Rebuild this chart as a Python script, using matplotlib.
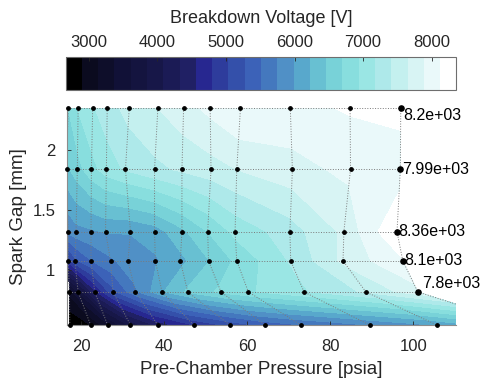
import numpy as np
import matplotlib
matplotlib.use('Agg')
import matplotlib.pyplot as plt
from matplotlib.colors import ListedColormap, BoundaryNorm
from matplotlib.ticker import FuncFormatter

plt.rcParams['font.family'] = ['Liberation Sans', 'DejaVu Sans']

# spark gap of each measurement row (top row first)
gap_mm = [2.347, 1.837, 1.32, 1.078, 0.82, 0.545]

# pre-chamber pressure of each point in the rows
pressure_psia = [
    [16.9, 19.3, 22.8, 26.3, 31.6, 38.5, 44.7, 51.1, 58.4, 70.4, 84.8, 97.0],
    [16.5, 19.1, 22.5, 26.1, 30.7, 37.7, 44.3, 51.3, 57.5, 70.9, 84.9, 96.9],
    [16.9, 18.8, 22.4, 25.9, 31.9, 37.7, 44.3, 50.5, 57.1, 70.3, 83.3, 96.1],
    [16.9, 18.5, 22.4, 27.1, 31.3, 37.9, 43.9, 50.7, 57.5, 70.5, 83.1, 97.5],
    [17.2, 19.3, 23.3, 27.7, 33.1, 39.5, 45.7, 53.7, 60.3, 73.7, 88.6, 101.1],
    [17.3, 22.3, 26.4, 31.9, 38.5, 47.1, 55.8, 64.3, 72.9, 89.5, 105.7, 126.0],
]

# breakdown voltage at each point
voltage_V = [
    [6700, 6950, 7150, 7300, 7500, 7650, 7800, 7950, 8130, 8050, 8150, 8200],
    [6400, 6600, 6850, 7050, 7200, 7350, 7450, 7550, 7650, 7800, 7950, 7990],
    [5800, 5900, 5950, 6000, 6000, 6100, 6400, 6700, 7000, 7300, 7700, 8360],
    [4900, 5200, 5500, 5700, 5850, 5950, 6150, 6450, 6750, 7200, 7700, 8100],
    [3200, 3600, 4500, 5200, 5700, 6200, 6500, 6750, 6900, 7150, 7450, 7800],
    [2670, 2900, 3300, 3900, 4400, 4800, 5100, 5350, 5500, 5750, 6000, 6500],
]

band_colors = ['#000000', '#0b0b1f', '#0e0e2a', '#111137', '#14143f', '#171748',
               '#1b1b55', '#202064', '#272790', '#2e3c9c', '#3450aa', '#3c62b8',
               '#4478be', '#5090c6', '#58a8cc', '#68c0d2', '#78d2d8', '#88dede',
               '#9ae6e4', '#aee9ea', '#c4f0ef', '#d8f4f4', '#eaf9fa', '#ffffff']

cbar_ticks = [3000, 4000, 5000, 6000, 7000, 8000]
x_ticks = [20, 40, 60, 80, 100]
y_ticks = [1, 1.5, 2]

v_min, v_max = 2660, 8362
x_lim = (16.5, 110.3)

P = np.array(pressure_psia)
G = np.repeat(np.array(gap_mm)[:, None], P.shape[1], axis=1)
V = np.array(voltage_V)

cmap = ListedColormap(band_colors)
levels = np.linspace(v_min, v_max, len(band_colors) + 1)
norm = BoundaryNorm(levels, cmap.N)

fig = plt.figure(figsize=(4.82, 3.86), dpi=100)
ax = fig.add_axes([0.138, 0.158, 0.808, 0.562])

cf = ax.contourf(P, G, V, levels=levels, cmap=cmap, norm=norm)

# dotted measurement grid
for i in range(P.shape[0]):
    ax.plot(P[i], G[i], ls=':', color='#7a7a7a', lw=0.7)
for j in range(P.shape[1]):
    ax.plot(P[:, j], G[:, j], ls=':', color='#7a7a7a', lw=0.7)

inside = P <= x_lim[1]
ax.scatter(P[inside], G[inside], s=6, color='black', zorder=5, clip_on=False)

# row maxima (all rows except the smallest gap)
offsets = [(2, -5), (1, 0), (1, 0), (1, 0), (3, 6)]
for i in range(5):
    j = int(np.argmax(V[i]))
    ax.scatter([P[i, j]], [G[i, j]], s=14, color='black', zorder=6, clip_on=False)
    ax.annotate('%.3g' % V[i, j], (P[i, j], G[i, j]), xytext=offsets[i],
                textcoords='offset points', ha='left', va='center',
                fontsize=11.5, color='black', annotation_clip=False)

ax.set_xlim(*x_lim)
ax.set_ylim(gap_mm[-1], gap_mm[0])
ax.set_xticks(x_ticks)
ax.set_yticks(y_ticks)
ax.yaxis.set_major_formatter(FuncFormatter(lambda v, _: '%g' % v))
ax.tick_params(direction='in', length=3, labelsize=12, colors='#262626',
               width=0.6)
ax.tick_params(axis='x', pad=10)
ax.tick_params(axis='y', pad=8)
for s in ['top', 'right']:
    ax.spines[s].set_visible(False)
for s in ['left', 'bottom']:
    ax.spines[s].set_color('#8c8c8c')
    ax.spines[s].set_linewidth(0.8)
ax.set_xlabel('Pre-Chamber Pressure [psia]', fontsize=13.5, color='#262626',
              labelpad=5)
ax.set_ylabel('Spark Gap [mm]', fontsize=13.5, color='#262626', labelpad=4)

cax = fig.add_axes([0.136, 0.767, 0.811, 0.085])
cb = fig.colorbar(cf, cax=cax, orientation='horizontal', ticklocation='top')
cb.set_ticks(cbar_ticks)
cb.minorticks_off()
cb.ax.tick_params(direction='in', length=3, labelsize=12, colors='#262626',
                  width=0.6, pad=5)
cb.outline.set_edgecolor('#6e6e6e')
cb.outline.set_linewidth(0.8)
cb.set_label('Breakdown Voltage [V]', fontsize=13, color='#262626', labelpad=9)

fig.savefig('out.png', dpi=100)
